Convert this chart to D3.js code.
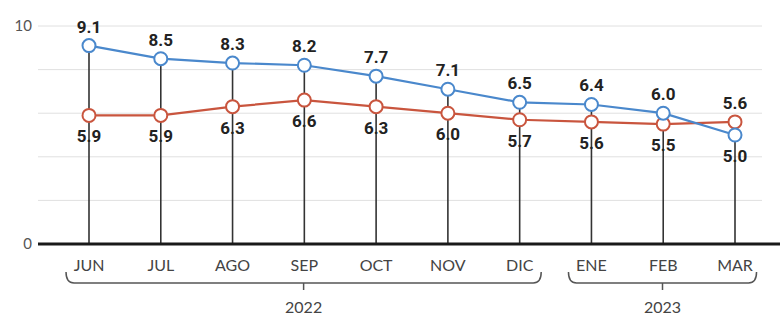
<!DOCTYPE html>
<html>
<head>
<meta charset="utf-8">
<script src="https://cdn.jsdelivr.net/npm/d3@7"></script>
<style>
  body { margin: 0; background: #fff; }
  svg { display: block; }
</style>
</head>
<body>
<div id="graph"></div>
<script>
var months = ['JUN', 'JUL', 'AGO', 'SEP', 'OCT', 'NOV', 'DIC', 'ENE', 'FEB', 'MAR']
var blueVals = [9.1, 8.5, 8.3, 8.2, 7.7, 7.1, 6.5, 6.4, 6.0, 5.0]
var redVals = [5.9, 5.9, 6.3, 6.6, 6.3, 6.0, 5.7, 5.6, 5.5, 5.6]
var gridVals = [2, 4, 6, 8, 10]
var yTicks = [0, 10]
var years = [
  {label: '2022', from: 'JUN', to: 'DIC'},
  {label: '2023', from: 'ENE', to: 'MAR'}
]

var width = 784, height = 317
var blue = '#4a88cc', red = '#c9553e', ink = '#222'

var svg = d3.select('#graph').append('svg')
  .attr('width', width).attr('height', height)

var x = d3.scalePoint().domain(months).range([89, 735])
var y = d3.scaleLinear().domain([0, 10]).range([244, 26])

// light grid
svg.selectAll('line.grid').data(gridVals).enter().append('line')
  .attr('x1', 38).attr('x2', 762)
  .attr('y1', d => y(d)).attr('y2', d => y(d))
  .attr('stroke', '#e0e0e0').attr('stroke-width', 1)

// y labels
svg.selectAll('text.ytick').data(yTicks).enter().append('text')
  .attr('x', 32).attr('y', d => y(d))
  .attr('dy', '0.35em').attr('text-anchor', 'end')
  .attr('font-family', 'Lato, sans-serif').attr('font-size', 15)
  .attr('fill', '#555')
  .text(d => d)

var rows = months.map((m, i) => ({m, b: blueVals[i], r: redVals[i]}))

// stems
svg.selectAll('line.stem').data(rows).enter().append('line')
  .attr('x1', d => x(d.m)).attr('x2', d => x(d.m))
  .attr('y1', d => y(Math.max(d.b, d.r))).attr('y2', y(0))
  .attr('stroke', '#333').attr('stroke-width', 1.6)

// baseline
svg.append('line')
  .attr('x1', 38).attr('x2', 780).attr('y1', y(0)).attr('y2', y(0))
  .attr('stroke', '#1a1a1a').attr('stroke-width', 3)

var line = d3.line().x(d => x(d.m))

svg.append('path').datum(rows)
  .attr('d', line.y(d => y(d.r)))
  .attr('fill', 'none').attr('stroke', red).attr('stroke-width', 2.2)

svg.append('path').datum(rows)
  .attr('d', line.y(d => y(d.b)))
  .attr('fill', 'none').attr('stroke', blue).attr('stroke-width', 2.2)

svg.selectAll('circle.r').data(rows).enter().append('circle')
  .attr('cx', d => x(d.m)).attr('cy', d => y(d.r)).attr('r', 6.5)
  .attr('fill', '#fff').attr('stroke', red).attr('stroke-width', 2)

svg.selectAll('circle.b').data(rows).enter().append('circle')
  .attr('cx', d => x(d.m)).attr('cy', d => y(d.b)).attr('r', 6.5)
  .attr('fill', '#fff').attr('stroke', blue).attr('stroke-width', 2)

// value labels: the higher one above, the lower one below
function valLabel(sel, key, other) {
  sel.selectAll('text.v' + key).data(rows).enter().append('text')
    .attr('x', d => x(d.m))
    .attr('y', d => d[key] >= d[other] ? y(d[key]) - 13 : y(d[key]) + 27)
    .attr('text-anchor', 'middle')
    .attr('font-family', 'Roboto, sans-serif').attr('font-weight', 'bold')
    .attr('font-size', 17).attr('fill', ink)
    .text(d => d[key].toFixed(1))
}
valLabel(svg, 'b', 'r')
valLabel(svg, 'r', 'b')

// month labels
svg.selectAll('text.month').data(months).enter().append('text')
  .attr('x', d => x(d)).attr('y', 271)
  .attr('text-anchor', 'middle')
  .attr('font-family', 'Lato, sans-serif').attr('font-size', 16)
  .attr('fill', '#444')
  .text(d => d)

// year brackets
var by = 283, step = x.step()
years.forEach(yr => {
  var x0 = x(yr.from) - step * 0.32, x1 = x(yr.to) + step * 0.3
  var cx = (x0 + x1) / 2
  svg.append('path')
    .attr('d', `M${x0},${by - 11} Q${x0},${by} ${x0 + 8},${by} L${x1 - 8},${by} Q${x1},${by} ${x1},${by - 11}`)
    .attr('fill', 'none').attr('stroke', '#555').attr('stroke-width', 1.5)
  svg.append('line')
    .attr('x1', cx).attr('x2', cx).attr('y1', by).attr('y2', by + 7)
    .attr('stroke', '#555').attr('stroke-width', 1.5)
  svg.append('text')
    .attr('x', cx).attr('y', 313).attr('text-anchor', 'middle')
    .attr('font-family', 'Lato, sans-serif').attr('font-size', 16)
    .attr('fill', '#444')
    .text(yr.label)
})
</script>
</body>
</html>
